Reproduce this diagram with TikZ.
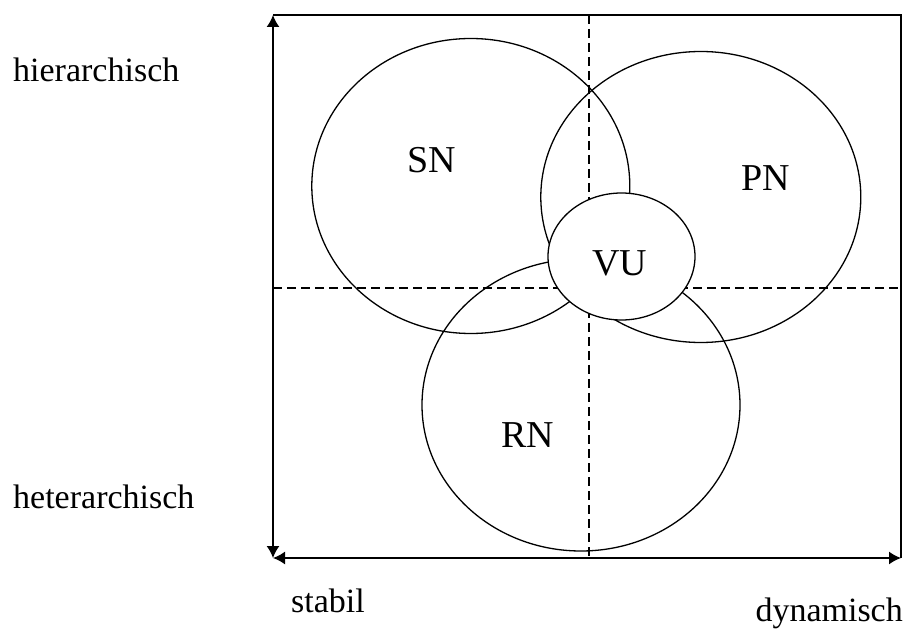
\documentclass[tikz,border=0pt]{standalone}
\usepackage{fontspec}
\setmainfont{Liberation Serif}
\usetikzlibrary{arrows.meta,positioning}

\begin{document}
\begin{tikzpicture}[x=1pt,y=-1pt,
  ring/.style={line width=1.3pt},
  frame/.style={line width=1.6pt},
  axis/.style={frame,{Latex[length=12pt,width=13pt]}-{Latex[length=12pt,width=13pt]}},
  quadrant/.style={line width=1.3pt,dash pattern=on 9pt off 5pt},
  tag/.style={font=\fontsize{38}{38}\selectfont,inner sep=0pt},
  side/.style={font=\fontsize{34}{34}\selectfont,inner sep=0pt}]
\useasboundingbox (0,0) rectangle (906,631);
\coordinate (o) at (273,558); \coordinate (tl) at (273,15);
\coordinate (tr) at (901,15); \coordinate (br) at (901,558);
\coordinate (vtop) at (589,15); \coordinate (vbot) at (589,558);
\coordinate (hl) at (273,288); \coordinate (hr) at (901,288);
\draw[ring] (470.8,186) ellipse (159 and 147.5);
\draw[ring] (700.8,197) ellipse (160 and 145.5);
\draw[ring] (581,405) ellipse (159 and 146);
\draw[quadrant] (vtop) -- (vbot);
\draw[quadrant] (hl) -- (hr);
\draw[ring,fill=white] (621.5,256.5) ellipse (73.5 and 63.5);
\draw[frame] (tl) -- (tr) -- (br);
\draw[axis] (tl) -- (o);
\draw[axis] (o) -- (br);
\node[tag] (sn) at (432,160) {SN};
\node[tag] (pn) at (766,178) {PN};
\node[tag] (vu) at (620,263) {VU};
\node[tag] (rn) at (528,435) {RN};
\node[side,anchor=base west] (hier) at (13,82) {hierarchisch};
\node[side,anchor=base west] (heter) at (13,508) {heterarchisch};
\node[side,anchor=base west] (stab) at (291,612) {stabil};
\node[side,anchor=base east] (dyn) at (903,621) {dynamisch};
\end{tikzpicture}
\end{document}
